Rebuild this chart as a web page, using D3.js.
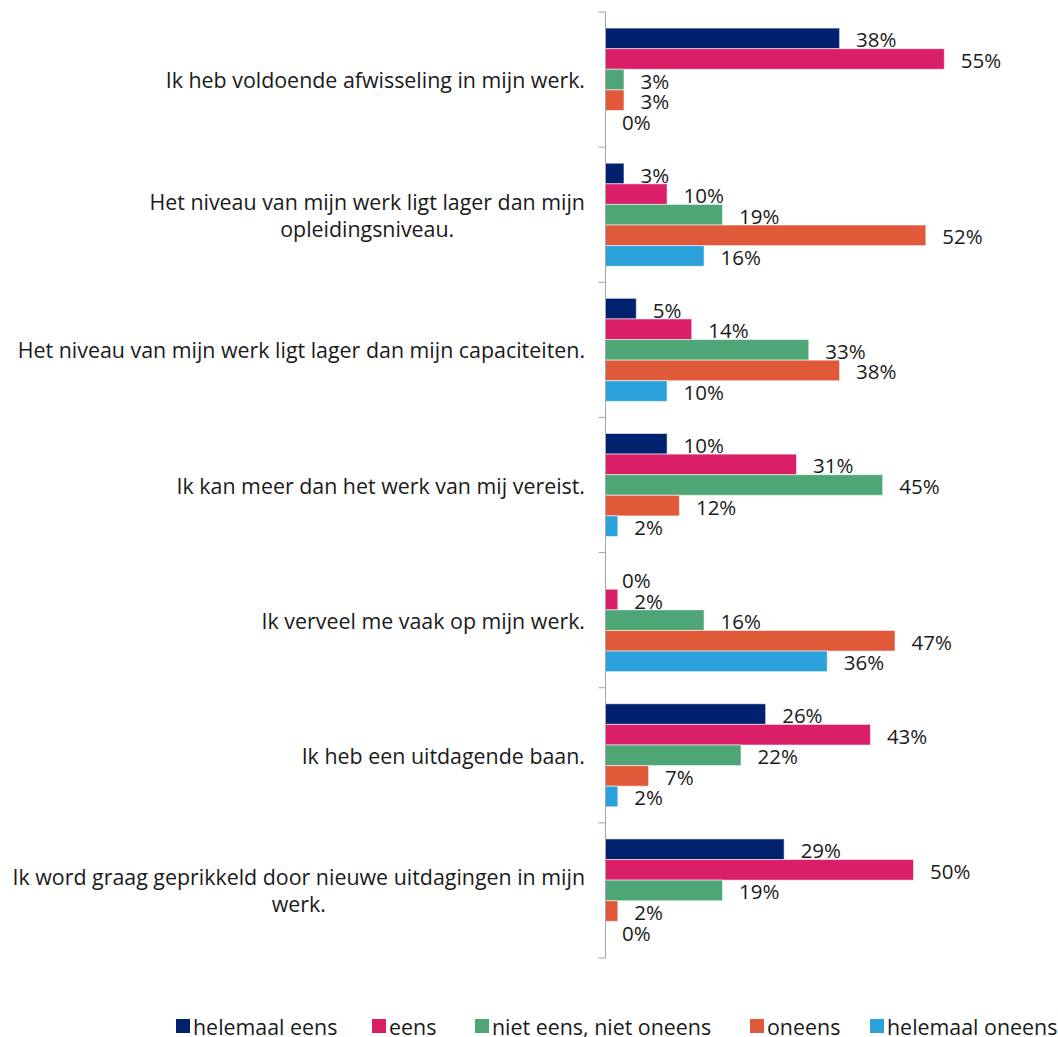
<!DOCTYPE html>
<html>
<head>
<meta charset="utf-8">
<script src="https://cdn.jsdelivr.net/npm/d3@7"></script>
<style>
  body { margin: 0; background: #fff; }
  svg text { font-family: "Open Sans", "Noto Sans", sans-serif; fill: #1a1a1a; }
</style>
</head>
<body>
<div id="my_dataviz"></div>
<script>
// data
var statements = [
  "Ik heb voldoende afwisseling in mijn werk.",
  "Het niveau van mijn werk ligt lager dan mijn opleidingsniveau.",
  "Het niveau van mijn werk ligt lager dan mijn capaciteiten.",
  "Ik kan meer dan het werk van mij vereist.",
  "Ik verveel me vaak op mijn werk.",
  "Ik heb een uitdagende baan.",
  "Ik word graag geprikkeld door nieuwe uitdagingen in mijn werk."
];
var answers = ["helemaal eens", "eens", "niet eens, niet oneens", "oneens", "helemaal oneens"];
var helemaalEens   = [38, 3, 5, 10, 0, 26, 29];
var eens           = [55, 10, 14, 31, 2, 43, 50];
var nietEensOneens = [3, 19, 33, 45, 16, 22, 19];
var oneens         = [3, 52, 38, 12, 47, 7, 2];
var helemaalOneens = [0, 16, 10, 2, 36, 2, 0];
var colors = ["#00226e", "#d81f68", "#4ea677", "#e05a3a", "#2ba1db"];

var series = [helemaalEens, eens, nietEensOneens, oneens, helemaalOneens];

document.addEventListener("DOMContentLoaded", function () {
  drawChart();
});

function drawChart() {
  var width = 1058, height = 1037;
  var left = 605.5, top = 12, bottom = 958;
  var valueFont = "20.5px", labelFont = "21.4px";

  var svg = d3.select("#my_dataviz")
    .append("svg")
    .attr("width", width)
    .attr("height", height);

  var x = d3.scaleLinear().domain([0, 60]).range([left, left + 6.16 * 60]);

  var y = d3.scaleBand().domain(statements).range([top, bottom]).paddingInner(0).paddingOuter(0);

  var y1 = d3.scaleBand().domain(answers).range([0, y.bandwidth()])
    .paddingInner(0).paddingOuter(0.78);

  // flatten to rows
  var rows = [];
  statements.forEach(function (s, i) {
    answers.forEach(function (a, j) {
      rows.push({ statement: s, answer: a, value: series[j][i], color: colors[j] });
    });
  });

  // bars
  svg.selectAll("rect.bar")
    .data(rows)
    .enter()
    .append("rect")
    .attr("class", "bar")
    .attr("x", x(0))
    .attr("y", function (d) { return y(d.statement) + y1(d.answer); })
    .attr("width", function (d) { return x(d.value) - x(0); })
    .attr("height", y1.bandwidth())
    .attr("fill", function (d) { return d.color; })
    .attr("stroke", "#ffffff")
    .attr("stroke-opacity", 0.55)
    .attr("stroke-width", 1);

  // value labels
  svg.selectAll("text.val")
    .data(rows)
    .enter()
    .append("text")
    .attr("class", "val")
    .attr("x", function (d) { return x(d.value) + 16.5; })
    .attr("y", function (d) { return y(d.statement) + y1(d.answer) + y1.bandwidth() / 2 + 1; })
    .attr("dominant-baseline", "central")
    .style("font-size", valueFont)
    .text(function (d) { return d.value + "%"; });

  // y axis
  var axis = svg.append("g")
    .attr("transform", "translate(" + left + ",0)");
  axis.append("line")
    .attr("x1", 0).attr("x2", 0)
    .attr("y1", top).attr("y2", bottom)
    .attr("stroke", "#a6a6a6");
  var tickPos = statements.map(function (s) { return y(s); }).concat([bottom]);
  axis.selectAll("line.tick")
    .data(tickPos)
    .enter()
    .append("line")
    .attr("class", "tick")
    .attr("x1", -7).attr("x2", 0)
    .attr("y1", function (d) { return d; })
    .attr("y2", function (d) { return d; })
    .attr("stroke", "#a6a6a6");

  // category labels, wrapped, lines centred, block right-aligned
  var maxW = 580, lineH = 27, rightEdge = 585;
  statements.forEach(function (s) {
    var words = s.split(" ");
    var g = svg.append("g");
    var probe = g.append("text").style("font-size", labelFont);
    var lines = [], cur = [];
    words.forEach(function (w) {
      cur.push(w);
      probe.text(cur.join(" "));
      if (probe.node().getComputedTextLength() > maxW && cur.length > 1) {
        cur.pop();
        lines.push(cur.join(" "));
        cur = [w];
      }
    });
    lines.push(cur.join(" "));
    var widths = lines.map(function (l) {
      probe.text(l);
      return probe.node().getComputedTextLength();
    });
    probe.remove();
    var blockW = d3.max(widths);
    var cy = y(s) + y.bandwidth() / 2;
    g.selectAll("text")
      .data(lines)
      .enter()
      .append("text")
      .attr("x", rightEdge - blockW / 2)
      .attr("y", function (d, i) { return cy + (i - (lines.length - 1) / 2) * lineH; })
      .attr("text-anchor", "middle")
      .attr("dominant-baseline", "central")
      .style("font-size", labelFont)
      .text(function (d) { return d; });
  });

  // legend
  var legX = [176, 372, 475, 750, 870];
  var legend = svg.selectAll("g.leg")
    .data(answers)
    .enter()
    .append("g")
    .attr("class", "leg")
    .attr("transform", function (d, i) { return "translate(" + legX[i] + ",1019)"; });
  legend.append("rect")
    .attr("width", 14)
    .attr("height", 14)
    .attr("fill", function (d, i) { return colors[i]; });
  legend.append("text")
    .attr("x", 17)
    .attr("y", 7)
    .attr("dominant-baseline", "central")
    .style("font-size", labelFont)
    .text(function (d) { return d; });
}
</script>
</body>
</html>
